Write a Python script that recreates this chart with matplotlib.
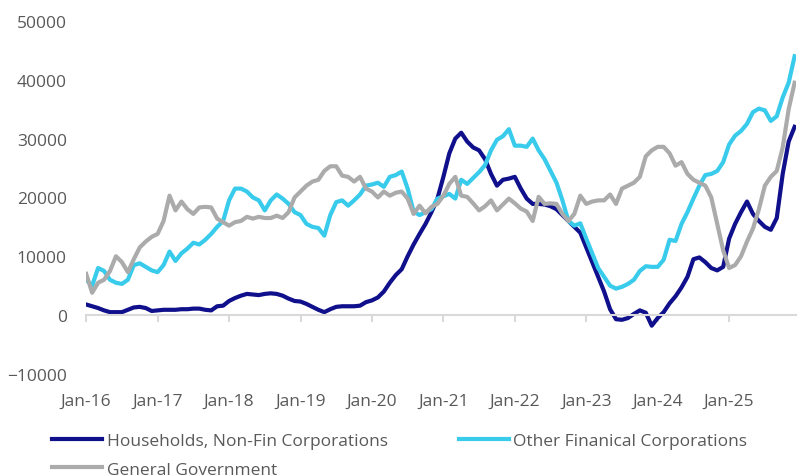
import numpy as np
import matplotlib.pyplot as plt

plt.rcParams['font.family'] = ['Open Sans', 'DejaVu Sans']

# monthly values, Jan-16 .. Dec-25
households = [
    1800, 1500, 1200, 800, 500, 500, 500, 900, 1300, 1400, 1200, 700,
    800, 900, 900, 900, 1000, 1000, 1100, 1100, 900, 800, 1500, 1600,
    2400, 2900, 3300, 3600, 3500, 3400, 3600, 3700, 3600, 3300, 2800, 2400,
    2300, 1900, 1400, 900, 500, 1000, 1400, 1500, 1500, 1500, 1600, 2200,
    2500, 3000, 4000, 5500, 6800, 7800, 10000, 12000, 13800, 15500, 17500, 19800,
    23500, 27500, 30000, 31000, 29500, 28500, 28000, 26500, 24000, 22000, 23000, 23200,
    23500, 21500, 19800, 18900, 18900, 18800, 18500, 18000, 17000, 16000, 15000, 14000,
    11500, 9000, 6500, 4000, 1000, -700, -800, -500, 200, 800, 400, -1800,
    -500, 500, 2000, 3200, 4700, 6500, 9500, 9800, 9000, 8000, 7600, 8200,
    13000, 15500, 17500, 19300, 17200, 16000, 15000, 14500, 16500, 24000, 29500, 32000,
]
other_fin = [
    6000, 5000, 8000, 7500, 6000, 5500, 5300, 6000, 8500, 8800, 8200, 7600,
    7300, 8500, 10800, 9200, 10500, 11300, 12300, 12000, 12800, 13800, 15000, 16000,
    19500, 21500, 21500, 21000, 20000, 19500, 17800, 19500, 20500, 19800, 18900, 17500,
    17000, 15500, 15000, 14800, 13500, 17000, 19200, 19500, 18600, 19500, 20500, 22000,
    22200, 22500, 21800, 23500, 23800, 24400, 21500, 17600, 17000, 17500, 18000, 19800,
    20200, 20600, 19800, 23000, 22300, 23300, 24300, 25500, 28000, 29800, 30400, 31600,
    28800, 28800, 28600, 30000, 28000, 26500, 24500, 22500, 19500, 16000, 15200, 15600,
    13000, 10500, 8000, 6500, 5000, 4500, 4800, 5300, 6000, 7500, 8300, 8200,
    8200, 9400, 12800, 12600, 15500, 17500, 19800, 22000, 23800, 24000, 24500, 26000,
    29000, 30500, 31300, 32500, 34500, 35100, 34800, 33000, 33800, 37000, 39500, 44000,
]
general_gov = [
    7000, 3800, 5500, 6000, 7500, 10000, 9000, 7300, 9500, 11500, 12500, 13300,
    13800, 16000, 20300, 17800, 19300, 18000, 17200, 18300, 18400, 18300, 16400, 15800,
    15200, 15800, 16000, 16700, 16400, 16700, 16500, 16500, 16900, 16500, 17500, 20000,
    21000, 22000, 22700, 23000, 24500, 25300, 25300, 23700, 23500, 22700, 23500, 21500,
    21000, 20000, 21000, 20300, 20800, 21000, 19800, 17200, 18600, 17300, 18400, 18900,
    20300, 22300, 23500, 20300, 20100, 19000, 17800, 18500, 19500, 17800, 18800, 19800,
    19000, 18100, 17600, 16000, 20100, 18900, 19000, 18900, 17200, 16000, 17200, 20300,
    18900, 19300, 19500, 19500, 20500, 18900, 21500, 22000, 22500, 23500, 27000, 28000,
    28600, 28600, 27500, 25400, 26000, 24000, 23000, 22500, 22000, 20000, 15500, 11000,
    8000, 8500, 10000, 12500, 14700, 18000, 22000, 23500, 24500, 28500, 35000, 39500,
]
year_labels = ['Jan-16', 'Jan-17', 'Jan-18', 'Jan-19', 'Jan-20',
               'Jan-21', 'Jan-22', 'Jan-23', 'Jan-24', 'Jan-25']

months = np.arange(len(households))
text_col = '#595959'
axis_col = '#d9d9d9'

fig = plt.figure(figsize=(7.98, 4.77), dpi=100)
ax = fig.add_axes([0.108, 0.214, 0.89, 0.74])

l1, = ax.plot(months, households, color='#10108c', lw=3, label='Households, Non-Fin Corporations')
l2, = ax.plot(months, other_fin, color='#38cbec', lw=3, label='Other Finanical Corporations')
l3, = ax.plot(months, general_gov, color='#ababab', lw=3, label='General Government')

ax.set_xlim(0, 119.3)
ax.set_ylim(-10000, 50000)
ax.set_yticks(range(-10000, 50001, 10000))
ax.set_xticks(months[::12])
ax.set_xticklabels(year_labels)

for s in ['top', 'right', 'left']:
    ax.spines[s].set_visible(False)
ax.spines['bottom'].set_position(('data', 0))
ax.spines['bottom'].set_color(axis_col)
ax.spines['bottom'].set_linewidth(1.5)
ax.tick_params(axis='x', direction='out', length=5, width=1.5, color=axis_col,
               labelsize=12.5, labelcolor=text_col, pad=51)
ax.tick_params(axis='y', length=0, labelsize=12.5, labelcolor=text_col, pad=14)

# legend: households and other financial on the first row, government below
fig.legend(handles=[l1, l3, l2], loc='upper left', bbox_to_anchor=(0.065, 0.090),
           ncol=2, frameon=False, fontsize=12.5, labelcolor=text_col,
           handlelength=2.9, handletextpad=0.25, columnspacing=4.1,
           labelspacing=0.7, borderaxespad=0, borderpad=0)

fig.savefig('out.png', dpi=100)
